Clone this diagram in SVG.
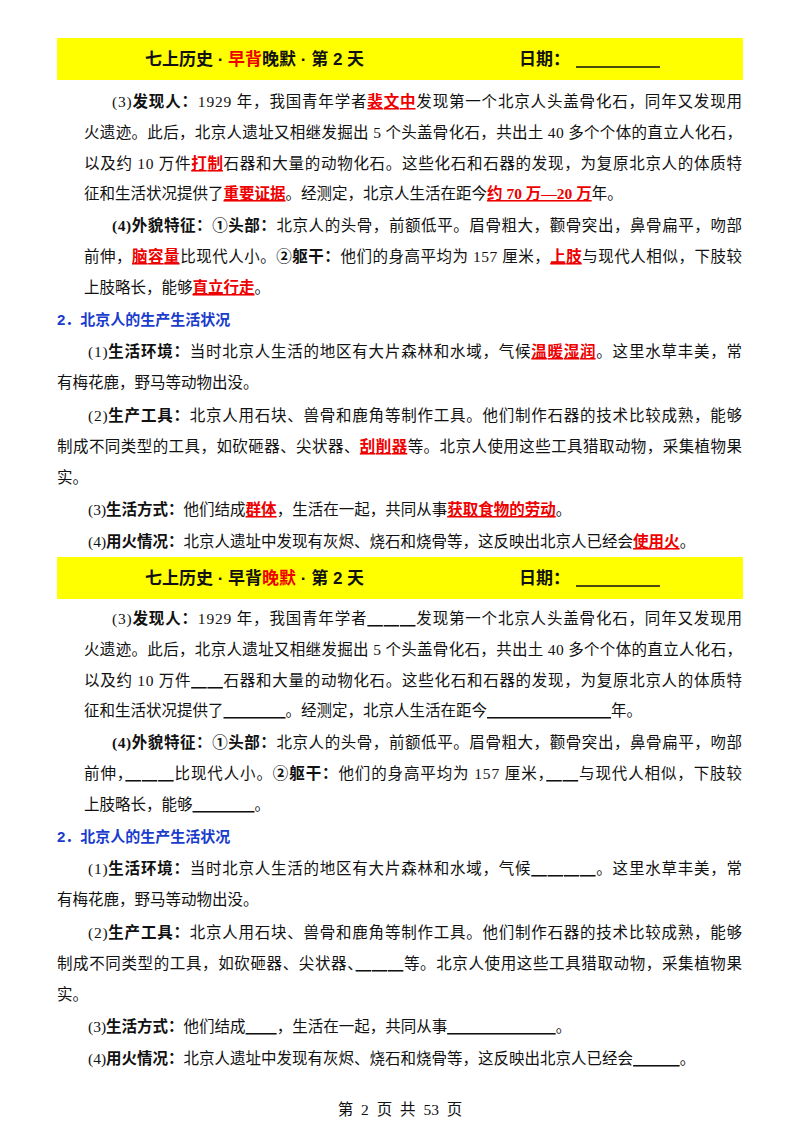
<svg xmlns="http://www.w3.org/2000/svg" width="800" height="1132" viewBox="0 0 800 1132">
<style>
text{font-family:"Liberation Serif","Noto Sans CJK SC",serif;font-size:15.5px;fill:#111}
.b{font-weight:bold}
.r{font-weight:bold;fill:#e00;text-decoration:underline}
.u{text-decoration:underline}
.h{font-family:"Liberation Sans","Noto Sans CJK SC",sans-serif;font-weight:bold;font-size:17px}
.s{font-family:"Liberation Sans","Noto Sans CJK SC",sans-serif;font-weight:bold;fill:#1a3ccc;font-size:15px}
</style>
<rect width="800" height="1132" fill="#fff"/>
<g id="top">
<rect x="57" y="38" width="686" height="42" fill="#ffff00"/>
<text class="h" x="145" y="65">七上历史 · <tspan fill="#e00">早背</tspan>晚默 · 第 2 天</text>
<text class="h" x="519" y="65">日期：</text>
<line x1="576" y1="67" x2="660" y2="67" stroke="#111" stroke-width="1.3"/>
<text x="112" y="107" textLength="630" lengthAdjust="spacing">(3)<tspan class="b">发现人：</tspan>1929 年，我国青年学者<tspan class="r">裴文中</tspan>发现第一个北京人头盖骨化石，同年又发现用</text>
<text x="84" y="138" textLength="658" lengthAdjust="spacing">火遗迹。此后，北京人遗址又相继发掘出 5 个头盖骨化石，共出土 40 多个个体的直立人化石，</text>
<text x="84" y="169" textLength="658" lengthAdjust="spacing">以及约 10 万件<tspan class="r">打制</tspan>石器和大量的动物化石。这些化石和石器的发现，为复原北京人的体质特</text>
<text x="84" y="199">征和生活状况提供了<tspan class="r">重要证据</tspan>。经测定，北京人生活在距今<tspan class="r">约 70 万—20 万</tspan>年。</text>
<text x="112" y="231" textLength="630" lengthAdjust="spacing"><tspan class="b">(4)外貌特征：①头部：</tspan>北京人的头骨，前额低平。眉骨粗大，颧骨突出，鼻骨扁平，吻部</text>
<text x="84" y="262" textLength="658" lengthAdjust="spacing">前伸，<tspan class="r">脑容量</tspan>比现代人小。<tspan class="b">②躯干：</tspan>他们的身高平均为 157 厘米，<tspan class="r">上肢</tspan>与现代人相似，下肢较</text>
<text x="84" y="293">上肢略长，能够<tspan class="r">直立行走</tspan>。</text>
<text class="s" x="57" y="325">2．北京人的生产生活状况</text>
<text x="88" y="357" textLength="654" lengthAdjust="spacing">(1)<tspan class="b">生活环境：</tspan>当时北京人生活的地区有大片森林和水域，气候<tspan class="r">温暖湿润</tspan>。这里水草丰美，常</text>
<text x="57" y="388">有梅花鹿，野马等动物出没。</text>
<text x="88" y="421" textLength="654" lengthAdjust="spacing">(2)<tspan class="b">生产工具：</tspan>北京人用石块、兽骨和鹿角等制作工具。他们制作石器的技术比较成熟，能够</text>
<text x="57" y="452" textLength="685" lengthAdjust="spacing">制成不同类型的工具，如砍砸器、尖状器、<tspan class="r">刮削器</tspan>等。北京人使用这些工具猎取动物，采集植物果</text>
<text x="57" y="483">实。</text>
<text x="88" y="515">(3)<tspan class="b">生活方式：</tspan>他们结成<tspan class="r">群体</tspan>，生活在一起，共同从事<tspan class="r">获取食物的劳动</tspan>。</text>
<text x="88" y="547">(4)<tspan class="b">用火情况：</tspan>北京人遗址中发现有灰烬、烧石和烧骨等，这反映出北京人已经会<tspan class="r">使用火</tspan>。</text>
</g>
<g id="bottom">
<rect x="57" y="557" width="686" height="42" fill="#ffff00"/>
<text class="h" x="145" y="584">七上历史 · 早背<tspan fill="#e00">晚默</tspan> · 第 2 天</text>
<text class="h" x="519" y="584">日期：</text>
<line x1="576" y1="586" x2="660" y2="586" stroke="#111" stroke-width="1.3"/>
<text x="112" y="624" textLength="630" lengthAdjust="spacing">(3)<tspan class="b">发现人：</tspan>1929 年，我国青年学者<tspan class="u">　　　</tspan>发现第一个北京人头盖骨化石，同年又发现用</text>
<text x="84" y="655" textLength="658" lengthAdjust="spacing">火遗迹。此后，北京人遗址又相继发掘出 5 个头盖骨化石，共出土 40 多个个体的直立人化石，</text>
<text x="84" y="686" textLength="658" lengthAdjust="spacing">以及约 10 万件<tspan class="u">　　</tspan>石器和大量的动物化石。这些化石和石器的发现，为复原北京人的体质特</text>
<text x="84" y="716">征和生活状况提供了<tspan class="u">　　　　</tspan>。经测定，北京人生活在距今<tspan class="u">　　　　　　　　</tspan>年。</text>
<text x="112" y="748" textLength="630" lengthAdjust="spacing"><tspan class="b">(4)外貌特征：①头部：</tspan>北京人的头骨，前额低平。眉骨粗大，颧骨突出，鼻骨扁平，吻部</text>
<text x="84" y="779" textLength="658" lengthAdjust="spacing">前伸，<tspan class="u">　　　</tspan>比现代人小。<tspan class="b">②躯干：</tspan>他们的身高平均为 157 厘米，<tspan class="u">　　</tspan>与现代人相似，下肢较</text>
<text x="84" y="810">上肢略长，能够<tspan class="u">　　　　</tspan>。</text>
<text class="s" x="57" y="842">2．北京人的生产生活状况</text>
<text x="88" y="874" textLength="654" lengthAdjust="spacing">(1)<tspan class="b">生活环境：</tspan>当时北京人生活的地区有大片森林和水域，气候<tspan class="u">　　　　</tspan>。这里水草丰美，常</text>
<text x="57" y="905">有梅花鹿，野马等动物出没。</text>
<text x="88" y="938" textLength="654" lengthAdjust="spacing">(2)<tspan class="b">生产工具：</tspan>北京人用石块、兽骨和鹿角等制作工具。他们制作石器的技术比较成熟，能够</text>
<text x="57" y="969" textLength="685" lengthAdjust="spacing">制成不同类型的工具，如砍砸器、尖状器、<tspan class="u">　　　</tspan>等。北京人使用这些工具猎取动物，采集植物果</text>
<text x="57" y="1000">实。</text>
<text x="88" y="1032">(3)<tspan class="b">生活方式：</tspan>他们结成<tspan class="u">　　</tspan>，生活在一起，共同从事<tspan class="u">　　　　　　　</tspan>。</text>
<text x="88" y="1064">(4)<tspan class="b">用火情况：</tspan>北京人遗址中发现有灰烬、烧石和烧骨等，这反映出北京人已经会<tspan class="u">　　　</tspan>。</text>
</g>
<text x="400" y="1115" text-anchor="middle" font-size="14" word-spacing="4">第 2 页 共 53 页</text>
</svg>
